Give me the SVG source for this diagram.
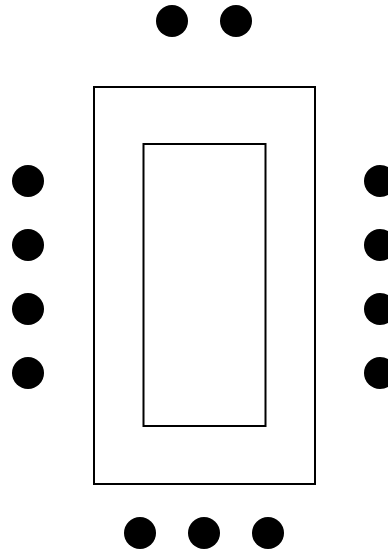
<svg xmlns="http://www.w3.org/2000/svg" width="388" height="552" viewBox="0 0 388 552">
<style>
.tbl{fill:none;stroke:#000;stroke-width:2}
.seat{fill:#000}
</style>
<rect width="388" height="552" fill="#fff"/>
<g id="table">
<rect class="tbl" x="94" y="87" width="221" height="397"/>
<rect class="tbl" x="143.5" y="144" width="122" height="282"/>
</g>
<g id="seats-top">
<circle class="seat" cx="172" cy="21" r="16"/>
<circle class="seat" cx="236" cy="21" r="16"/>
</g>
<g id="seats-left">
<circle class="seat" cx="28" cy="181" r="16"/>
<circle class="seat" cx="28" cy="245" r="16"/>
<circle class="seat" cx="28" cy="309" r="16"/>
<circle class="seat" cx="28" cy="373" r="16"/>
</g>
<g id="seats-right">
<circle class="seat" cx="380" cy="181" r="16"/>
<circle class="seat" cx="380" cy="245" r="16"/>
<circle class="seat" cx="380" cy="309" r="16"/>
<circle class="seat" cx="380" cy="373" r="16"/>
</g>
<g id="seats-bottom">
<circle class="seat" cx="140" cy="533" r="16"/>
<circle class="seat" cx="204" cy="533" r="16"/>
<circle class="seat" cx="268" cy="533" r="16"/>
</g>
<g id="connectors"/>
</svg>
